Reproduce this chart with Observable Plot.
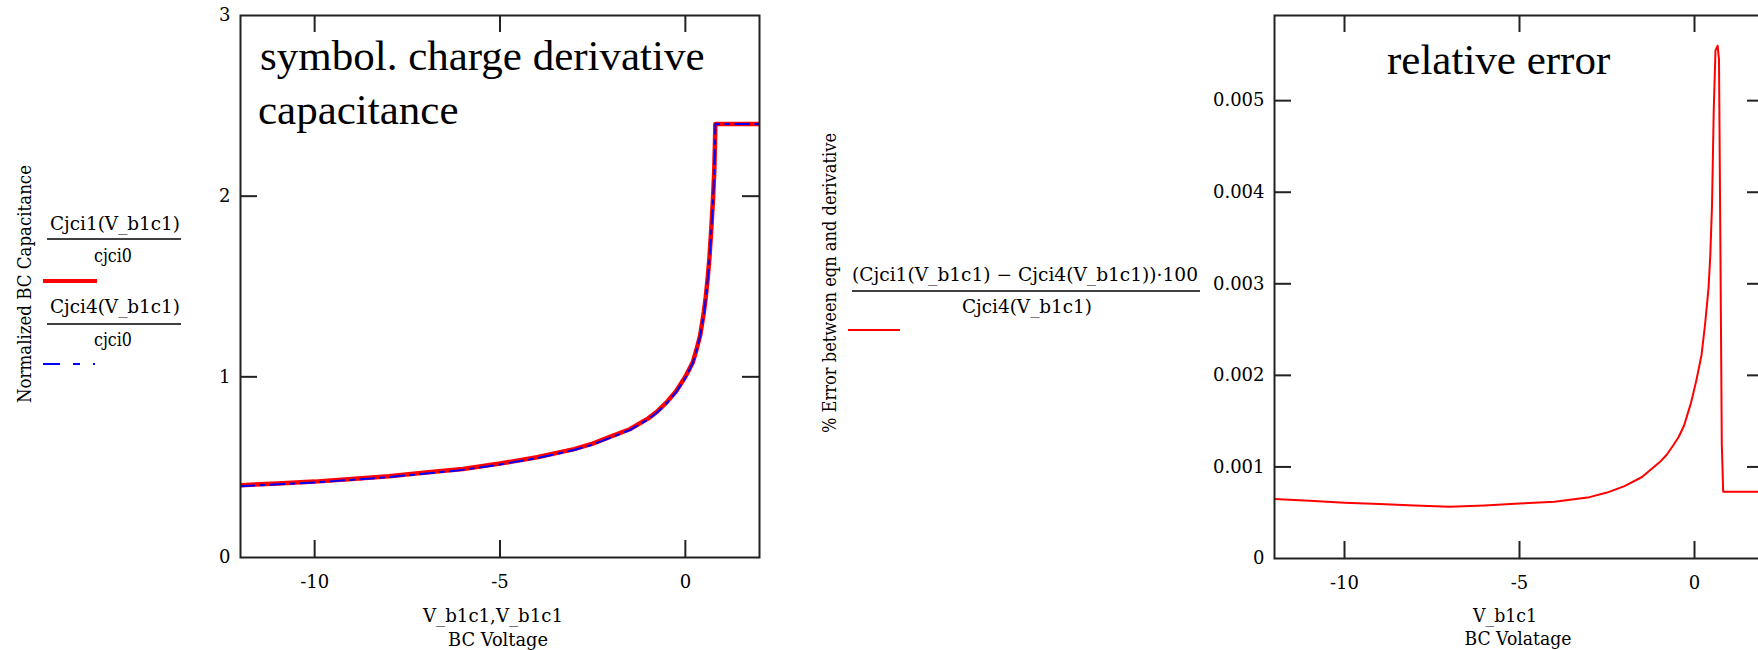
<!DOCTYPE html>
<html>
<head>
<meta charset="utf-8">
<script src="https://cdn.jsdelivr.net/npm/d3@7"></script>
<script src="https://cdn.jsdelivr.net/npm/@observablehq/plot@0.6"></script>
<style>
  html, body { margin: 0; padding: 0; background: #fff; overflow: hidden; }
  #wrap { position: relative; width: 1758px; height: 650px; overflow: hidden; background: #fff; }
  #wrap > svg, #wrap > figure { position: absolute; margin: 0; }
</style>
</head>
<body>
<div id="wrap"></div>
<script>
// ---- data ----
const voltage = [-12, -11, -10, -9, -8, -7, -6, -5, -4, -3, -2.5, -2, -1.5, -1, -0.75, -0.5, -0.25, 0, 0.1, 0.2, 0.3, 0.4, 0.5, 0.55, 0.6, 0.65, 0.7, 0.75, 0.78, 0.8, 0.81, 2];
const cjci1Norm = [0.40, 0.41, 0.42, 0.435, 0.45, 0.47, 0.49, 0.52, 0.555, 0.60, 0.63, 0.67, 0.71, 0.77, 0.81, 0.86, 0.92, 1.00, 1.04, 1.08, 1.15, 1.23, 1.36, 1.44, 1.54, 1.66, 1.82, 2.00, 2.14, 2.30, 2.40, 2.40];
const cjci4Norm = [0.395, 0.405, 0.415, 0.43, 0.445, 0.465, 0.485, 0.515, 0.55, 0.595, 0.625, 0.665, 0.705, 0.765, 0.805, 0.855, 0.915, 0.995, 1.035, 1.075, 1.145, 1.225, 1.35, 1.43, 1.53, 1.65, 1.81, 1.99, 2.13, 2.29, 2.40, 2.40];

const errVoltage = [-12, -11, -10, -9, -8, -7, -6, -5, -4, -3, -2.5, -2, -1.5, -1, -0.8, -0.6, -0.45, -0.3, -0.1, 0.05, 0.2, 0.3, 0.4, 0.45, 0.5, 0.55, 0.6, 0.66, 0.7, 0.74, 0.78, 0.82, 2];
const relError = [6.5e-4, 6.3e-4, 6.1e-4, 5.95e-4, 5.8e-4, 5.65e-4, 5.8e-4, 6.0e-4, 6.2e-4, 6.7e-4, 7.2e-4, 7.9e-4, 8.9e-4, 1.05e-3, 1.13e-3, 1.24e-3, 1.33e-3, 1.45e-3, 1.7e-3, 1.94e-3, 2.22e-3, 2.55e-3, 2.95e-3, 3.3e-3, 3.85e-3, 4.9e-3, 5.55e-3, 5.6e-3, 5.45e-3, 3.4e-3, 1.25e-3, 7.3e-4, 7.3e-4];

const xTicks = [-10, -5, 0];
const capYTicks = [0, 1, 2, 3];
const errYTicks = [0, 0.001, 0.002, 0.003, 0.004, 0.005];

const capRows = voltage.map((v, i) => ({v, c1: cjci1Norm[i], c4: cjci4Norm[i]}));
const errRows = errVoltage.map((v, i) => ({v, e: relError[i]}));

const INK = "#222";
const TICK = 17;
const fmtX = d => d < 0 ? "-" + Math.abs(d) : String(d);
const baseStyle = {fontFamily: "DejaVu Serif", fontSize: "18px", color: "#000", background: "transparent", overflow: "visible"};

function panel({width, height, mL, mR, mT, mB, yDomain, yTicks, yFmt, marks}) {
  const iw = width - mL - mR, ih = height - mT - mB;
  const innerY = yTicks.filter(t => t > yDomain[0] && t < yDomain[1]);
  return Plot.plot({
    width, height,
    marginLeft: mL, marginRight: mR, marginTop: mT, marginBottom: mB,
    style: baseStyle,
    x: {domain: [-12, 2]},
    y: {domain: yDomain},
    marks: [
      ...marks,
      Plot.frame({stroke: INK, strokeWidth: 2}),
      Plot.ruleX(xTicks, {x: d => d, insetTop: ih - TICK, stroke: INK, strokeWidth: 2}),
      Plot.ruleX(xTicks, {x: d => d, insetBottom: ih - TICK, stroke: INK, strokeWidth: 2}),
      Plot.ruleY(innerY, {y: d => d, insetRight: iw - TICK, stroke: INK, strokeWidth: 2}),
      Plot.ruleY(innerY, {y: d => d, insetLeft: iw - TICK, stroke: INK, strokeWidth: 2}),
      Plot.axisX({anchor: "bottom", ticks: xTicks, tickSize: 0, tickPadding: 18, tickFormat: fmtX, label: null, fontSize: 18}),
      Plot.axisY({anchor: "left", ticks: yTicks, tickSize: 0, tickPadding: 10, tickFormat: yFmt, label: null, fontSize: 18})
    ]
  });
}

const wrap = document.getElementById("wrap");

const p1 = panel({
  width: 800, height: 650, mL: 240, mR: 41, mT: 15, mB: 93,
  yDomain: [0, 3], yTicks: capYTicks, yFmt: d => String(d),
  marks: [
    Plot.line(capRows, {x: "v", y: "c1", stroke: "#ff0000", strokeWidth: 4.5, clip: true}),
    Plot.line(capRows, {x: "v", y: "c4", stroke: "#0000ff", strokeWidth: 2, strokeDasharray: "14,6,4,6", clip: true})
  ]
});
p1.style.left = "0px"; p1.style.top = "0px";
wrap.appendChild(p1);

const p2 = panel({
  width: 700, height: 650, mL: 174, mR: 36, mT: 15, mB: 92,
  yDomain: [0, 0.00593], yTicks: errYTicks, yFmt: d => d === 0 ? "0" : d3.format(".3f")(d),
  marks: [
    Plot.line(errRows, {x: "v", y: "e", stroke: "#ff0000", strokeWidth: 2, clip: true})
  ]
});
p2.style.left = "1100px"; p2.style.top = "0px";
wrap.appendChild(p2);

// ---- overlay: legends, axis titles, annotations ----
const ov = d3.select(wrap).append("svg")
  .attr("width", 1758).attr("height", 650)
  .style("left", "0px").style("top", "0px").style("pointer-events", "none");

function txt(s, x, y, {size = 18, family = "DejaVu Serif", anchor = "middle", len = null, rotate = 0} = {}) {
  const t = ov.append("text")
    .attr("transform", `translate(${x},${y}) rotate(${rotate})`)
    .attr("text-anchor", anchor)
    .attr("font-family", family)
    .attr("font-size", size)
    .attr("fill", "#000")
    .text(s);
  if (len) t.attr("textLength", len).attr("lengthAdjust", "spacingAndGlyphs");
  return t;
}
function seg(x1, x2, y, stroke, w, dash) {
  const l = ov.append("line").attr("x1", x1).attr("x2", x2).attr("y1", y).attr("y2", y)
    .attr("stroke", stroke).attr("stroke-width", w);
  if (dash) l.attr("stroke-dasharray", dash);
}

// left panel
txt("Normalized BC Capacitance", 31, 284, {rotate: -90, len: 238});
txt("Cjci1(V_b1c1)", 115, 230, {len: 130});
seg(47, 181, 239, "#000", 1.5);
txt("cjci0", 113, 262, {len: 38});
seg(43, 97, 281, "#ff0000", 4);
txt("Cjci4(V_b1c1)", 115, 313, {len: 130});
seg(47, 181, 324, "#000", 1.5);
txt("cjci0", 113, 346, {len: 38});
seg(43, 97, 364, "#0000ff", 2, "17,13,7,13,2,13");
txt("V_b1c1,V_b1c1", 493, 622, {len: 140});
txt("BC Voltage", 498, 646, {len: 100});
txt("symbol. charge derivative", 260, 70, {size: 43, family: "Liberation Serif", anchor: "start"});
txt("capacitance", 258, 124, {size: 43, family: "Liberation Serif", anchor: "start"});

// right panel
txt("% Error between eqn and derivative", 836, 283, {rotate: -90, len: 300});
txt("(Cjci1(V_b1c1) \u2212 Cjci4(V_b1c1))\u00b7100", 1025, 281, {len: 346});
seg(852, 1200, 291, "#000", 1.5);
txt("Cjci4(V_b1c1)", 1027, 313, {len: 130});
seg(848, 900, 330, "#ff0000", 2);
txt("V_b1c1", 1505, 622, {len: 64});
txt("BC Volatage", 1518, 645, {len: 107});
txt("relative error", 1387, 74, {size: 43, family: "Liberation Serif", anchor: "start"});
</script>
</body>
</html>
